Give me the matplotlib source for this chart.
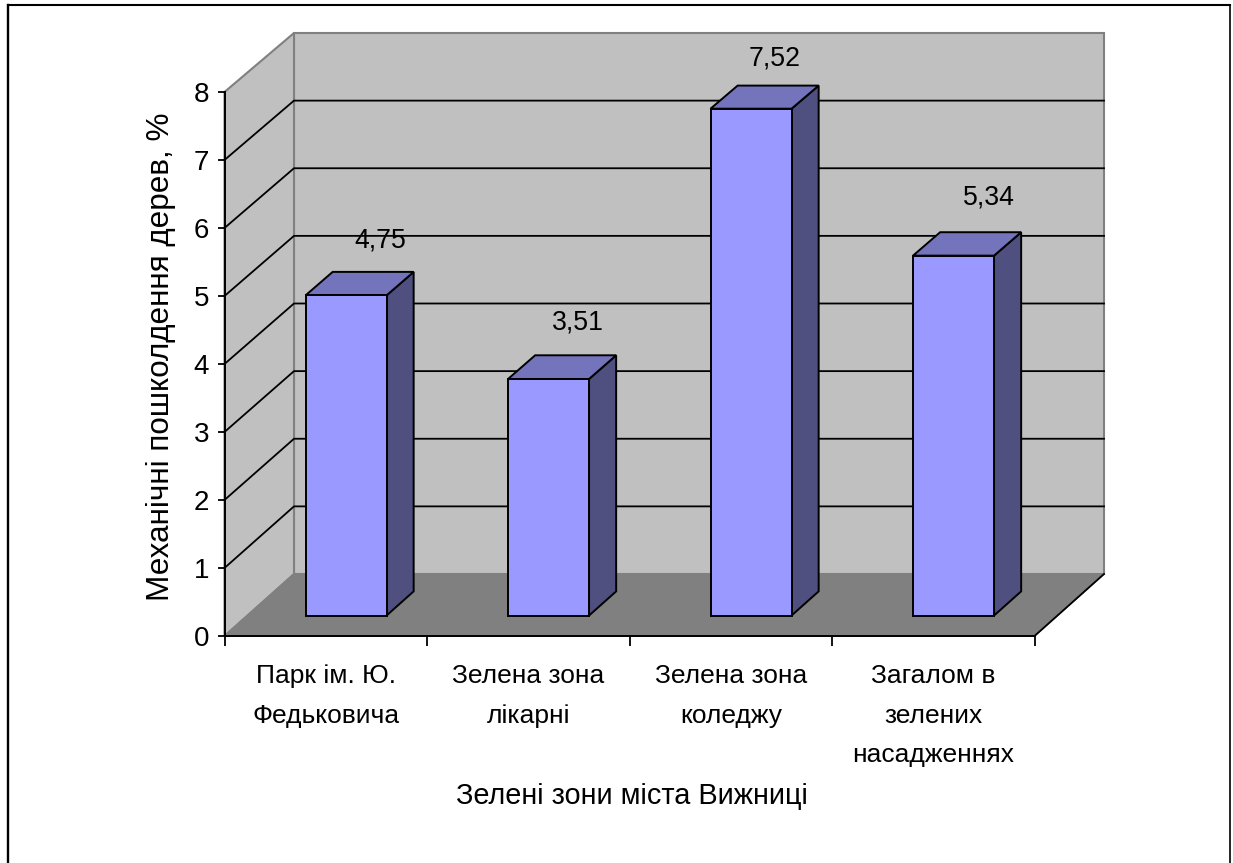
import matplotlib
matplotlib.use("Agg")
import matplotlib.pyplot as plt
from matplotlib.lines import Line2D
from matplotlib.patches import Polygon

plt.rcParams['font.family'] = ['Liberation Sans', 'DejaVu Sans']

categories = ["Парк ім. Ю.\nФедьковича", "Зелена зона\nлікарні", "Зелена зона\nколеджу",
              "Загалом в\nзелених\nнасадженнях"]
values = [4.75, 3.51, 7.52, 5.34]
value_labels = ["4,75", "3,51", "7,52", "5,34"]
y_ticks = [0, 1, 2, 3, 4, 5, 6, 7, 8]
x_title = "Зелені зони міста Вижниці"
y_title = "Механічні пошколдення дерев, %"

W, H = 1233, 863
fig = plt.figure(figsize=(W / 100, H / 100), dpi=100, facecolor="white")
L, R, T, B = 224.5, 1034.5, 92.0, 636.0
ax = fig.add_axes([L / W, 1 - B / H, (R - L) / W, (B - T) / H])
ax.set_xlim(0, 4)
ax.set_ylim(0, 8)
ax.patch.set_visible(False)

# oblique projection: depth 0 = front plane, 1 = back wall
DX = 69.5 / (R - L) * 4
DY = 62.0 / (B - T) * 8
SHRINK = 0.0055
VS = 0.993


def P(x, y, d=0.0):
    return (x + DX * d, y * (1 - SHRINK * d) + DY * d)


WALL, FLOOR, EDGE = "#c0c0c0", "#808080", "#808080"
ymax = y_ticks[-1]
xmax = len(categories)

# frame: open at the bottom, the picture is cut there
fx = lambda p: p / W
fy = lambda p: 1 - p / H
fig.add_artist(Line2D([fx(7.5), fx(7.5)], [fy(863), fy(5.5)], color="black", lw=1.7, transform=fig.transFigure,
                      solid_capstyle="projecting"))
fig.add_artist(Line2D([fx(7.5), fx(1230)], [fy(5.5), fy(5.5)], color="black", lw=1.5, transform=fig.transFigure))
fig.add_artist(Line2D([fx(1230), fx(1230)], [fy(5.5), fy(863)], color="black", lw=1.2, transform=fig.transFigure,
                      solid_capstyle="projecting"))

# walls and floor
ax.add_patch(Polygon([P(0, 0, 1), P(xmax, 0, 1), P(xmax, ymax, 1), P(0, ymax, 1)], closed=True,
                     facecolor=WALL, edgecolor=EDGE, linewidth=1.5, clip_on=False, zorder=1))
ax.add_patch(Polygon([P(0, 0, 0), P(0, 0, 1), P(0, ymax, 1), P(0, ymax, 0)], closed=True,
                     facecolor=WALL, edgecolor=EDGE, linewidth=1.5, clip_on=False, zorder=1))
ax.add_patch(Polygon([P(0, 0, 0), P(xmax, 0, 0), P(xmax, 0, 1), P(0, 0, 1)], closed=True,
                     facecolor=FLOOR, edgecolor=EDGE, linewidth=1.2, clip_on=False, zorder=2))
ax.plot(*zip(P(xmax, 0, 0), P(xmax, 0, 1)), color="black", lw=1.3, clip_on=False, zorder=2.5)

# gridlines
for t in y_ticks[1:-1]:
    pts = [P(0, t, 0), P(0, t, 1), P(xmax, t, 1)]
    ax.plot(*zip(*pts), color="black", lw=1.3, clip_on=False, zorder=3, solid_joinstyle="miter")

# bars
D0, D1 = 0.33, 0.72
BAR_L, BAR_R = 0.287, 0.687
FRONT, TOP, SIDE = "#9999ff", "#7474bd", "#4f4f80"
label_nudge = [(34, 55), (29, 56), (24, 50), (35, 58)]
for i, (v, lab, nud) in enumerate(zip(values, value_labels, label_nudge)):
    x0, x1 = i + BAR_L, i + BAR_R
    h = v * VS
    ax.add_patch(Polygon([P(x1, 0, D0), P(x1, 0, D1), P(x1, h, D1), P(x1, h, D0)], closed=True,
                         facecolor=SIDE, edgecolor="black", lw=1.4, clip_on=False, zorder=5, joinstyle="miter"))
    ax.add_patch(Polygon([P(x0, h, D0), P(x1, h, D0), P(x1, h, D1), P(x0, h, D1)], closed=True,
                         facecolor=TOP, edgecolor="black", lw=1.4, clip_on=False, zorder=5, joinstyle="miter"))
    ax.add_patch(Polygon([P(x0, 0, D0), P(x1, 0, D0), P(x1, h, D0), P(x0, h, D0)], closed=True,
                         facecolor=FRONT, edgecolor="black", lw=1.4, clip_on=False, zorder=6, joinstyle="miter"))
    cx, cy = P((x0 + x1) / 2, h, D0)
    ax.annotate(lab, (cx, cy), xytext=(nud[0] * 0.72, nud[1] * 0.72), textcoords="offset points",
                ha="center", va="center", fontsize=19.2, color="black", zorder=8, annotation_clip=False)

# axes
for s in ("top", "right"):
    ax.spines[s].set_visible(False)
for s in ("left", "bottom"):
    ax.spines[s].set_linewidth(1.4)
    ax.spines[s].set_zorder(7)
ax.set_yticks(y_ticks)
ax.set_yticklabels([str(t) for t in y_ticks], fontsize=20)
ax.tick_params(axis="y", length=5, width=1.3, pad=6)
ax.set_xticks(range(xmax + 1))
ax.set_xticklabels([])
ax.tick_params(axis="x", which="major", length=7, width=1.3)
ax.set_xticks([i + 0.5 for i in range(xmax)], minor=True)
ax.set_xticklabels(categories, minor=True, fontsize=19, linespacing=1.8)
ax.tick_params(axis="x", which="minor", length=0, pad=20.5)

fig.text(632 / W, 1 - 796 / H, x_title, ha="center", va="center", fontsize=20.8)
fig.text(161 / W, 1 - 357 / H, y_title, ha="center", va="center", rotation=90, fontsize=22.7)

fig.savefig("out.png", dpi=100)
